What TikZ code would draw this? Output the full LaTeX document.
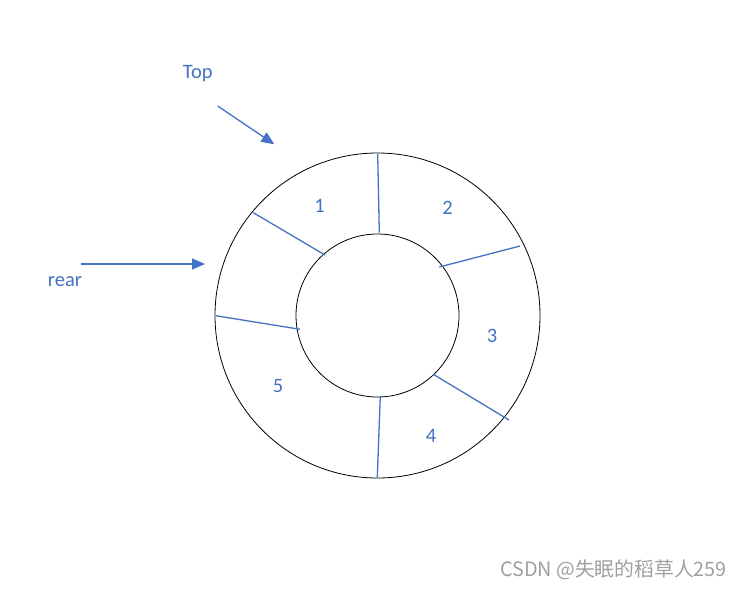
\documentclass[tikz,border=0pt]{standalone}
\usepackage{fontspec}
\setmainfont{Carlito}
\newfontfamily\cjkfont{Noto Sans CJK SC}
\usetikzlibrary{arrows.meta}
\definecolor{offblue}{RGB}{68,114,196}
\definecolor{wmgray}{RGB}{160,160,160}
\tikzset{
  ring/.style={draw=black, line width=0.8pt, circle, inner sep=0pt},
  spoke/.style={draw=offblue, line width=1.3pt},
  lbl/.style={text=offblue, font=\fontsize{20.5}{24}\selectfont, inner sep=0pt},
  pointer/.style={draw=offblue, line width=1.3pt, -{Triangle[length=13pt,width=11pt]}}
}
\begin{document}
\begin{tikzpicture}[x=1pt,y=-1pt]
\useasboundingbox[fill=white] (0,0) rectangle (743,589);
% rings
\node[ring, minimum size=325pt] (outer) at (377.5,315.5) {};
\node[ring, minimum size=163pt] (inner) at (377.5,315.5) {};
% spokes
\coordinate (s1a) at (377.7,154);  \coordinate (s1b) at (379.3,232.7);
\coordinate (s2a) at (520,246);    \coordinate (s2b) at (439.3,267);
\coordinate (s3a) at (509,420);    \coordinate (s3b) at (433.3,374.3);
\coordinate (s4a) at (380.3,396);  \coordinate (s4b) at (377.3,477.3);
\coordinate (s5a) at (215.7,315.7);\coordinate (s5b) at (300,329.3);
\coordinate (s6a) at (253.3,212.7);\coordinate (s6b) at (325,255);
\foreach \i in {1,...,6}{\draw[spoke] (s\i a) -- (s\i b);}
% cell labels
\node[lbl] (c1) at (319.5,206) {1};
\node[lbl] (c2) at (447.5,207.5) {2};
\node[lbl] (c3) at (492,336) {3};
\node[lbl] (c4) at (431,436) {4};
\node[lbl] (c5) at (278,386) {5};
% pointers
\node[lbl] (top) at (197.7,73.3) {Top};
\coordinate (topA) at (217.7,106);
\coordinate (topB) at (274.3,144.3);
\draw[pointer] (topA) -- (topB);
\node[lbl] (rear) at (65,281.7) {rear};
\coordinate (rearA) at (81,264);
\coordinate (rearB) at (205,264);
\draw[pointer] (rearA) -- (rearB);
% watermark
\node[text=wmgray, font=\cjkfont\fontsize{19.8}{22}\selectfont, inner sep=0pt] (wm) at (613.5,570) {CSDN @失眠的稻草人259};
\end{tikzpicture}
\end{document}
